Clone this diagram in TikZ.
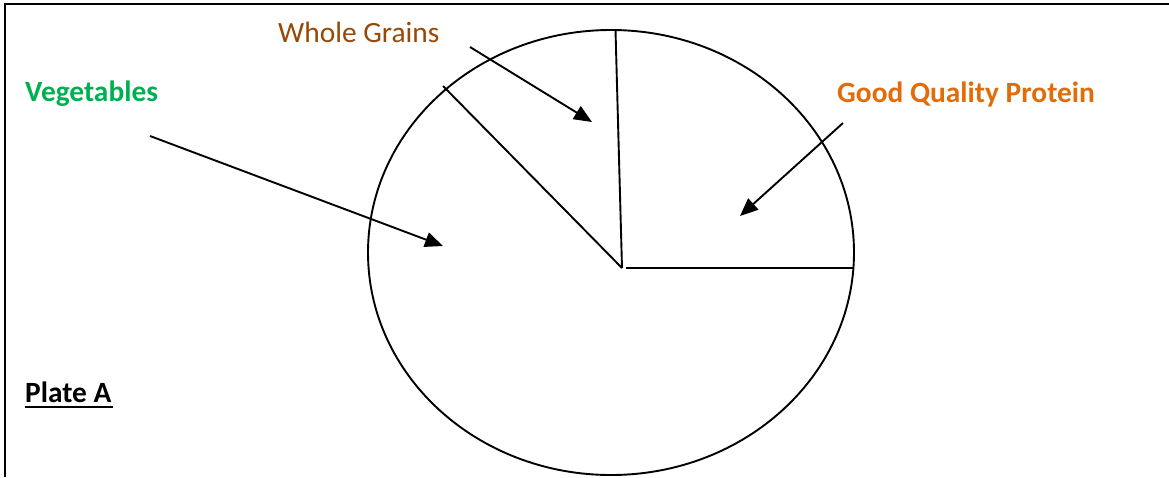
\documentclass[tikz,border=0pt]{standalone}
\usepackage{fontspec}
\setmainfont{Carlito}
\usetikzlibrary{arrows.meta,shapes.geometric}
\definecolor{vegG}{HTML}{00B050}
\definecolor{grainB}{HTML}{984806}
\definecolor{protO}{HTML}{E36C0A}
\tikzset{
  lbl/.style={anchor=base west, inner sep=0pt, font=\fontsize{29.4}{34}\selectfont},
  blbl/.style={lbl, font=\fontsize{29.4}{34}\selectfont\bfseries},
  ln/.style={line width=1.9pt, black},
  arr/.style={line width=1.9pt, -{Triangle[length=18pt,width=15pt]}},
}
\begin{document}
\begin{tikzpicture}[x=1pt,y=-1pt]
\useasboundingbox (0,0) rectangle (1169,477);
% frame
\draw[line width=2.4pt] (5,477) -- (5,4) -- (1169,4);
% plate
\node[draw, line width=1.9pt, ellipse, minimum width=486pt, minimum height=445pt, inner sep=0pt] (plate) at (611,252.5) {};
\coordinate (c) at (622,268);
\coordinate (top) at (615.5,30);
\coordinate (ul) at (443,86);
\coordinate (hs) at (626,268);
\coordinate (hr) at (853,268);
\draw[ln] (top) -- (c);
\draw[ln] (ul) -- (c);
\draw[ln] (hs) -- (hr);
% labels
\node[blbl, text=vegG] (veg) at (25,101) {Vegetables};
\node[lbl, text=grainB] (grain) at (278,42) {Whole Grains};
\node[blbl, text=protO] (prot) at (837,102) {Good Quality Protein};
\node[blbl] (plateA) at (25,402) {Plate A};
\draw[line width=2pt] (plateA.base west) ++(0,5) -- ++(88,0);
% arrows
\coordinate (v0) at (150,136);
\coordinate (v1) at (443,246);
\coordinate (g0) at (470,47);
\coordinate (g1) at (592,122);
\coordinate (p0) at (843,123);
\coordinate (p1) at (740,216);
\draw[arr] (v0) -- (v1);
\draw[arr] (g0) -- (g1);
\draw[arr] (p0) -- (p1);
\end{tikzpicture}
\end{document}
